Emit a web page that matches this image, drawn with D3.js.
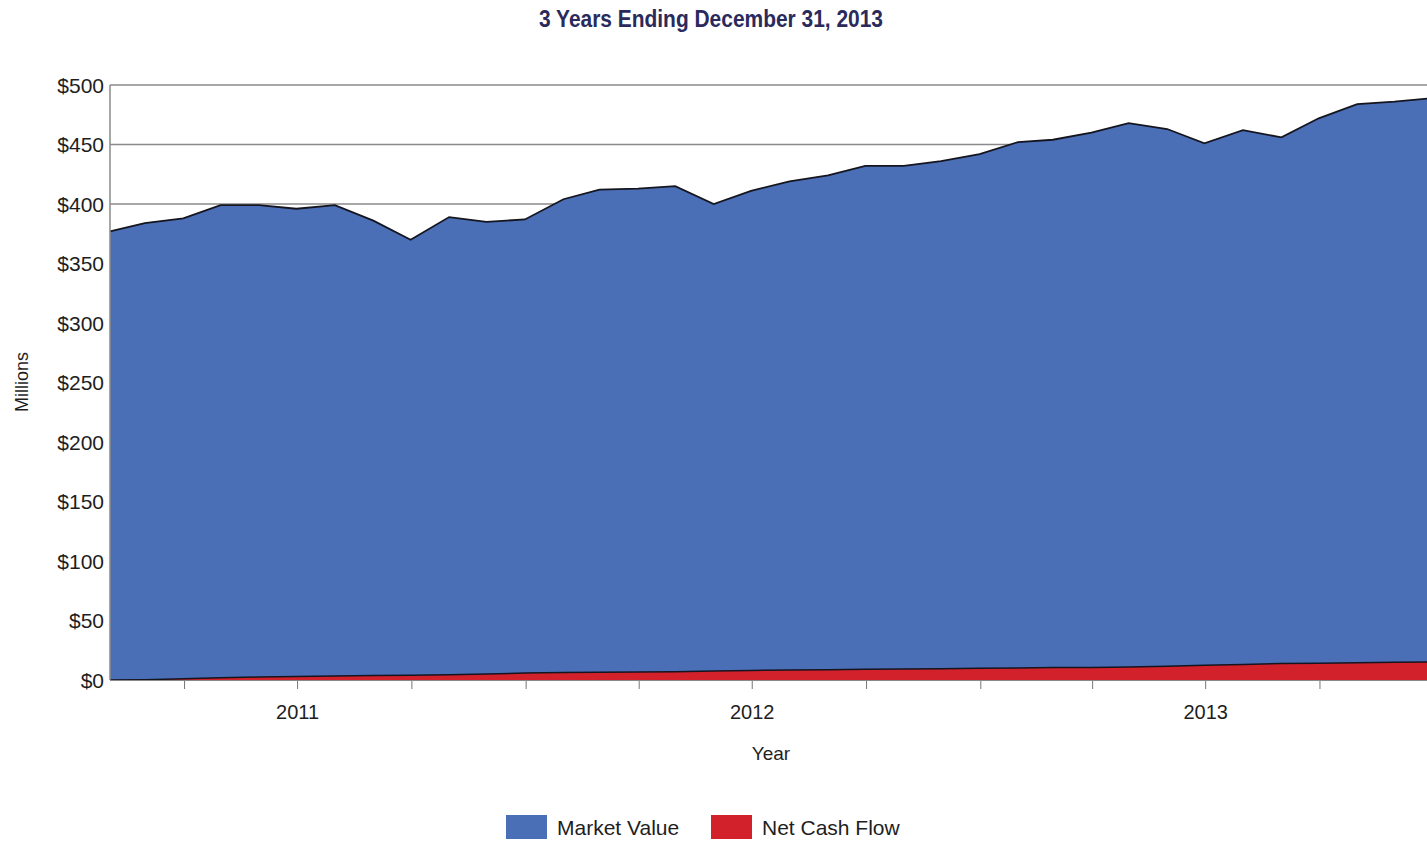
<!DOCTYPE html>
<html>
<head>
<meta charset="utf-8">
<script src="https://cdn.jsdelivr.net/npm/d3@7"></script>
<style>
  html, body { margin: 0; padding: 0; background: #fff; }
  svg { display: block; font-family: "Liberation Sans", Arial, sans-serif; }
</style>
</head>
<body>
<svg id="chart" width="1427" height="841"></svg>
<script>
// ---- data ----
const months = [
  "2011-01-31","2011-02-28","2011-03-31","2011-04-30","2011-05-31","2011-06-30",
  "2011-07-31","2011-08-31","2011-09-30","2011-10-31","2011-11-30","2011-12-31",
  "2012-01-31","2012-02-29","2012-03-31","2012-04-30","2012-05-31","2012-06-30",
  "2012-07-31","2012-08-31","2012-09-30","2012-10-31","2012-11-30","2012-12-31",
  "2013-01-31","2013-02-28","2013-03-31","2013-04-30","2013-05-31","2013-06-30",
  "2013-07-31","2013-08-31","2013-09-30","2013-10-31","2013-11-30","2013-12-31"
];
const marketValue = [377, 384, 388, 399, 399, 396, 399, 386, 370, 389, 385, 387,
                     404, 412, 413, 415, 400, 411, 419, 424, 432, 432, 436, 442,
                     452, 454, 460, 468, 463, 451, 462, 456, 472, 484, 486, 489];
const netCashFlow = [0, 0.3, 1, 1.8, 2.5, 3, 3.3, 3.7, 4, 4.5, 5, 5.8,
                     6.2, 6.5, 6.7, 7, 7.6, 8, 8.4, 8.6, 9, 9.2, 9.5, 9.8,
                     10.1, 10.4, 10.6, 11, 11.5, 12.3, 13, 13.8, 14, 14.5, 15, 15.2];
const yTicks = [0, 50, 100, 150, 200, 250, 300, 350, 400, 450, 500];
const yearLabels = ["2011", "2012", "2013"];
const seriesNames = ["Market Value", "Net Cash Flow"];
const seriesColors = ["#4a6fb6", "#d2212b"];
const chartTitle = "3 Years Ending December 31, 2013";

(function () {
  const svg = d3.select("#chart");
  const W = 1427;
  const mLeft = 110, mRight = 1433, mTop = 85, mBottom = 680;

  const parse = d3.utcParse("%Y-%m-%d");
  const dates = months.map(parse);

  const x = d3.scaleUtc().domain([dates[0], dates[dates.length - 1]]).range([mLeft, mRight]);
  const y = d3.scaleLinear().domain([0, 500]).range([mBottom, mTop]);

  // title
  svg.append("text")
    .attr("x", 711).attr("y", 27)
    .attr("text-anchor", "middle")
    .attr("font-size", 23).attr("font-weight", "bold")
    .attr("fill", "#2a2a5c")
    .attr("textLength", 344).attr("lengthAdjust", "spacingAndGlyphs")
    .text(chartTitle);

  // gridlines
  svg.append("g").selectAll("line").data(yTicks.filter(d => d > 0)).join("line")
    .attr("x1", mLeft).attr("x2", W)
    .attr("y1", d => y(d)).attr("y2", d => y(d))
    .attr("stroke", "#8a8a8a").attr("stroke-width", 1.5);

  // areas
  const mvData = dates.map((d, i) => ({ d, v: marketValue[i] }));
  const ncData = dates.map((d, i) => ({ d, v: netCashFlow[i] }));
  const area = d3.area().x(p => x(p.d)).y0(y(0)).y1(p => y(p.v));
  const line = d3.line().x(p => x(p.d)).y(p => y(p.v));

  svg.append("path").datum(mvData).attr("d", area).attr("fill", seriesColors[0]);
  svg.append("path").datum(mvData).attr("d", line)
    .attr("fill", "none").attr("stroke", "#15151f").attr("stroke-width", 1.8);
  svg.append("path").datum(ncData).attr("d", area).attr("fill", seriesColors[1]);
  svg.append("path").datum(ncData).attr("d", line)
    .attr("fill", "none").attr("stroke", "#15151f").attr("stroke-width", 1.5);

  // y axis line
  svg.append("line").attr("x1", mLeft).attr("x2", mLeft).attr("y1", mTop).attr("y2", mBottom)
    .attr("stroke", "#8a8a8a").attr("stroke-width", 1.5);
  // x axis line
  svg.append("line").attr("x1", mLeft).attr("x2", W).attr("y1", mBottom + 0.5).attr("y2", mBottom + 0.5)
    .attr("stroke", "#8a8a8a").attr("stroke-width", 1);

  // y tick labels
  svg.append("g").selectAll("text").data(yTicks).join("text")
    .attr("x", mLeft - 6).attr("y", d => y(d)).attr("dy", "0.36em")
    .attr("text-anchor", "end").attr("font-size", 21).attr("fill", "#1e1e1e")
    .text(d => "$" + d);

  // x ticks (quarterly)
  const qTicks = x.ticks(d3.utcMonth.every(3));
  svg.append("g").selectAll("line").data(qTicks).join("line")
    .attr("x1", d => x(d)).attr("x2", d => x(d))
    .attr("y1", mBottom + 1).attr("y2", mBottom + 9)
    .attr("stroke", "#777").attr("stroke-width", 1);

  // year labels at mid-year ticks
  const yearTicks = qTicks.filter(d => d.getUTCMonth() === 6);
  svg.append("g").selectAll("text").data(yearTicks).join("text")
    .attr("x", d => x(d)).attr("y", 719)
    .attr("text-anchor", "middle").attr("font-size", 20).attr("fill", "#1e1e1e")
    .text((d, i) => yearLabels[i]);

  // axis titles
  svg.append("text").attr("x", 771).attr("y", 760)
    .attr("text-anchor", "middle").attr("font-size", 19).attr("fill", "#1e1e1e")
    .text("Year");
  svg.append("text")
    .attr("transform", "translate(28,382) rotate(-90)")
    .attr("text-anchor", "middle").attr("font-size", 18).attr("fill", "#1e1e1e")
    .text("Millions");

  // legend
  const legendX = [506, 711];
  const lg = svg.append("g").selectAll("g").data(seriesNames).join("g")
    .attr("transform", (d, i) => `translate(${legendX[i]},815)`);
  lg.append("rect").attr("width", 41).attr("height", 24)
    .attr("fill", (d, i) => seriesColors[i]);
  lg.append("text").attr("x", 51).attr("y", 20)
    .attr("font-size", 21).attr("fill", "#1e1e1e")
    .text(d => d);
})();
</script>
</body>
</html>
